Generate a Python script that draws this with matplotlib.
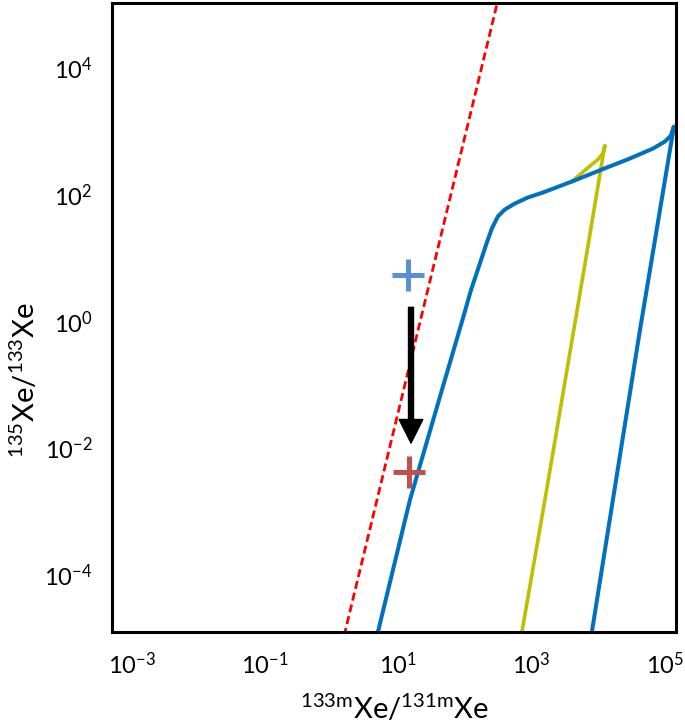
import numpy as np
import matplotlib
matplotlib.use("Agg")
import matplotlib.pyplot as plt

plt.rcParams["font.family"] = ["Lato", "DejaVu Sans"]

# curve values as log10 exponents
blue_lx = [0.589, 0.694, 1.174, 1.610, 1.970, 2.090, 2.225, 2.330, 2.405, 2.495,
           2.601, 2.751, 2.946, 3.171, 3.607, 4.057, 4.477, 4.823, 5.003, 5.093,
           5.138, 4.628, 4.222, 3.907, 3.847]
blue_ly = [-5.339, -4.898, -2.819, -1.244, 0.047, 0.488, 0.913, 1.244, 1.465, 1.654,
           1.764, 1.858, 1.953, 2.031, 2.205, 2.394, 2.567, 2.724, 2.835, 2.929,
           3.071, -0.142, -2.819, -4.898, -5.339]

yellow_lx = [2.80, 2.856, 3.201, 3.817, 4.087, 4.102, 4.072, 3.997, 3.832, 3.607]
yellow_ly = [-5.30, -4.898, -2.819, 0.992, 2.693, 2.772, 2.646, 2.551, 2.409, 2.205]

red_lx = [0.10, 2.55]
red_ly = [-5.33, 5.30]

# measured ratios (before / after)
pt_before = (13.9, 5.3)
pt_after = (14.4, 0.0042)
arrow_x = 15.5
arrow_y = (1.66, 0.012)

xticks = [1e-3, 1e-1, 1e1, 1e3, 1e5]
xtick_labels = [r"$\mathregular{10^{-3}}$", r"$\mathregular{10^{-1}}$", r"$\mathregular{10^{1}}$",
                r"$\mathregular{10^{3}}$", r"$\mathregular{10^{5}}$"]
yticks = [1e-4, 1e-2, 1e0, 1e2, 1e4]
ytick_labels = [r"$\mathregular{10^{-4}}$", r"$\mathregular{10^{-2}}$", r"$\mathregular{10^{0}}$",
                r"$\mathregular{10^{2}}$", r"$\mathregular{10^{4}}$"]

fig = plt.figure(figsize=(6.85, 7.28), dpi=100)
ax = fig.add_axes([112 / 685, 96 / 728, 564 / 685, 629 / 728])
ax.set_xscale("log")
ax.set_yscale("log")
ax.set_xlim(10 ** -3.30, 10 ** 5.17)
ax.set_ylim(10 ** -4.90, 10 ** 5.02)

ax.plot(np.power(10.0, red_lx), np.power(10.0, red_ly), color="#FF0000", lw=2.0,
        dashes=(2.9, 1.45))
ax.plot(np.power(10.0, yellow_lx), np.power(10.0, yellow_ly), color="#BFBF00", lw=2.6,
        solid_joinstyle="round")
ax.plot(np.power(10.0, blue_lx), np.power(10.0, blue_ly), color="#0070C0", lw=2.9,
        solid_joinstyle="round")

ax.plot(*pt_before, marker="+", ms=23, mew=3.6, color="#5B8FD6", ls="none")
ax.plot(*pt_after, marker="+", ms=23, mew=3.6, color="#C0504D", ls="none")

ax.annotate("", xy=(arrow_x, arrow_y[1]), xytext=(arrow_x, arrow_y[0]),
            arrowprops=dict(width=3.6, headwidth=17, headlength=17, shrink=0,
                            color="black"))

ax.minorticks_off()
ax.set_xticks(xticks)
ax.set_xticklabels(xtick_labels)
ax.set_yticks(yticks)
ax.set_yticklabels(ytick_labels)
ax.tick_params(length=0, labelsize=17)
ax.tick_params(axis="x", pad=14)
ax.tick_params(axis="y", pad=14)
for s in ax.spines.values():
    s.set_linewidth(2.2)

fig.text(395 / 685, 1 - 708 / 728, r"$\mathregular{^{133m}Xe/^{131m}Xe}$",
         ha="center", va="center", fontsize=21)
fig.text(24 / 685, 1 - 380 / 728, r"$\mathregular{^{135}Xe/^{133}Xe}$",
         ha="center", va="center", fontsize=21, rotation=90)

fig.savefig("out.png", dpi=100)
